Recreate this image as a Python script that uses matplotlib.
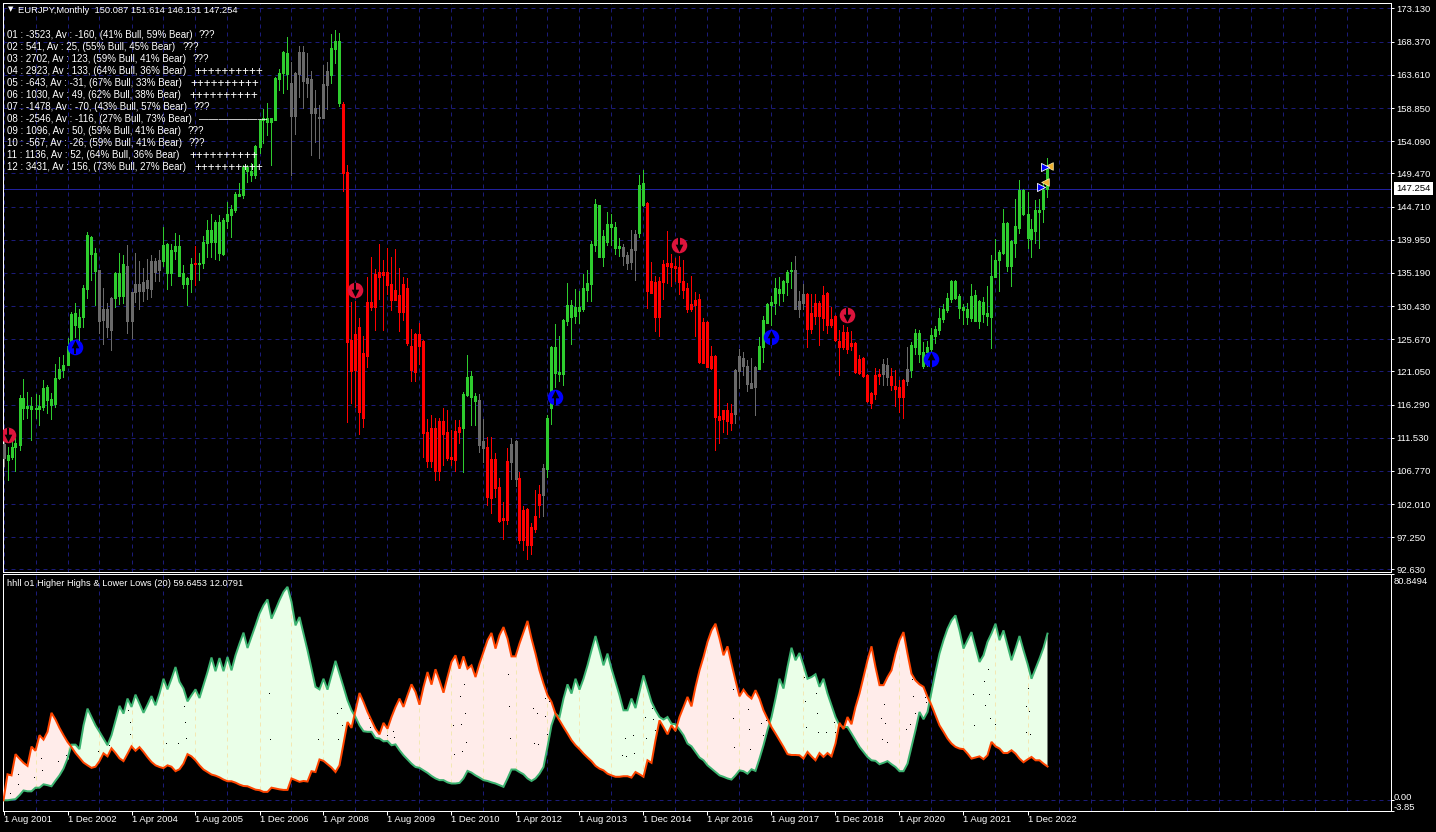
import numpy as np
import matplotlib
matplotlib.use("Agg")
import matplotlib.pyplot as plt

W, H = 1436, 832
FONT = "Liberation Sans"

body_top = [
110.6,109.1,110.2,110.8,117.2,117.2,116.1,116.1,115.8,116.1,
118.7,118.8,117.1,120.1,121.4,122.0,124.7,129.3,129.4,128.9,
133.0,140.6,140.3,138.0,135.6,130.0,130.0,131.6,135.2,135.2,
136.5,136.2,132.4,133.6,133.6,133.9,134.2,136.9,136.9,137.0,
139.2,139.3,138.5,139.1,139.1,135.2,134.5,136.5,136.6,136.6,
139.6,141.4,141.4,142.5,142.5,142.8,143.6,144.4,146.5,146.5,
150.4,150.4,149.8,153.4,157.1,157.4,157.4,157.4,163.2,163.9,
166.9,166.7,162.4,163.9,166.9,166.9,163.2,163.0,158.9,157.6,
162.3,164.2,167.5,168.5,168.5,159.4,149.7,125.6,126.4,127.4,
123.7,131.0,131.0,135.0,135.3,135.3,135.3,133.6,132.7,132.0,
133.6,133.0,124.7,126.4,126.4,125.4,112.4,112.9,112.9,113.9,
113.9,112.4,108.8,112.5,113.1,117.8,120.3,120.4,117.5,117.0,
111.1,110.2,108.5,108.5,104.5,100.0,108.2,110.6,111.1,105.8,
101.2,101.3,98.7,100.3,103.5,107.2,114.4,124.6,124.6,121.0,
128.4,130.6,130.6,130.3,130.3,133.0,133.7,139.3,145.1,145.0,
140.5,142.2,142.2,141.8,139.1,138.9,137.7,138.6,140.8,147.8,
148.1,145.2,134.0,133.9,134.0,136.5,136.6,136.6,136.2,136.0,
134.0,133.0,130.7,131.3,131.4,128.1,128.1,123.3,123.3,114.7,
115.5,115.5,115.1,121.3,123.3,123.0,121.8,119.4,121.7,124.7,
128.4,130.7,131.0,133.0,132.9,134.0,135.3,135.6,135.6,131.2,
132.2,132.2,129.4,130.9,130.9,132.0,132.3,128.6,129.0,125.4,
126.7,126.7,125.1,125.1,122.8,123.0,120.5,118.0,120.5,120.7,
122.1,122.0,120.4,119.0,118.8,119.8,121.4,124.8,126.6,126.6,
123.8,124.6,126.3,127.1,128.7,130.0,131.6,134.0,134.0,131.9,
130.3,130.0,131.9,132.0,131.2,131.0,129.4,134.7,137.0,138.2,
142.4,142.4,139.8,141.9,147.1,147.1,143.6,141.5,144.2,144.2,
147.1,150.087]

body_bottom = [
108.6,108.3,108.8,110.2,110.5,115.8,115.8,115.7,115.7,115.7,
115.9,117.0,116.2,116.4,120.1,121.3,122.0,124.7,127.7,127.4,
128.9,132.9,137.9,135.5,128.3,128.4,127.4,127.0,131.6,131.9,
131.9,128.3,128.3,132.4,132.6,132.6,133.0,132.9,135.3,135.6,
136.9,135.2,135.2,138.3,134.8,133.6,133.6,134.3,136.5,136.5,
136.6,139.5,139.6,139.6,138.0,137.9,142.6,143.5,144.2,146.2,
146.4,149.8,149.2,149.2,153.3,157.1,156.8,156.8,157.1,163.0,
163.9,163.7,157.7,157.7,163.7,162.7,162.4,158.1,158.1,157.4,
157.4,162.2,163.6,167.3,159.6,149.5,125.3,121.1,121.3,115.2,
114.4,123.3,130.3,130.3,134.6,134.9,133.4,131.3,131.3,129.6,
129.6,125.1,121.3,121.0,124.7,112.2,108.2,108.2,106.8,106.8,
112.1,108.6,108.5,108.3,112.4,112.9,117.7,117.4,116.8,110.5,
110.1,103.0,102.9,104.3,99.6,99.7,99.7,108.1,105.6,96.9,
96.9,96.1,96.1,98.4,101.9,103.3,107.0,115.8,120.8,120.7,
120.7,128.3,128.9,129.0,129.7,130.0,132.7,133.6,139.2,137.5,
137.5,139.6,141.8,138.8,138.8,137.6,136.6,136.8,138.5,140.9,
144.9,132.6,132.3,128.9,128.9,133.9,136.2,136.0,135.9,133.9,
132.7,130.0,130.0,130.6,122.4,122.3,121.7,121.5,114.5,114.1,
114.2,113.9,113.6,114.9,121.1,121.8,119.2,118.7,118.8,121.4,
124.6,128.0,130.6,130.9,132.3,132.3,133.9,135.5,130.0,130.0,
130.9,127.1,127.1,129.0,129.0,128.7,127.7,127.7,125.6,124.6,
124.6,124.3,124.7,121.0,120.8,120.4,116.8,116.5,117.8,120.4,
120.7,120.2,119.1,118.5,117.4,117.4,119.7,121.3,124.6,123.6,
121.8,123.8,124.3,126.1,127.0,128.6,129.9,131.4,131.6,130.1,
129.9,128.9,128.7,128.3,128.3,129.3,129.0,128.9,134.6,137.0,
138.0,136.2,136.2,139.5,141.6,143.6,140.2,140.1,141.2,143.9,
144.4,147.254]

wick_high = [
111.2,110.2,111.1,111.5,117.7,120.0,118.1,117.4,117.8,117.7,
119.8,119.1,118.0,122.1,123.1,123.4,125.8,129.6,130.9,130.0,
133.4,141.1,140.5,138.8,135.6,133.0,130.9,131.7,135.3,138.0,
137.8,139.2,132.4,138.0,136.9,135.9,137.2,137.8,137.3,138.5,
141.8,139.5,139.3,140.9,140.6,136.3,134.6,137.3,139.1,138.0,
140.5,142.8,143.6,142.8,143.5,143.1,145.4,144.9,146.8,148.1,
150.7,150.7,151.0,153.5,157.3,158.7,159.6,157.4,163.3,164.4,
167.0,169.0,165.5,164.0,167.7,167.7,166.7,164.2,161.4,159.3,
165.0,165.5,169.5,170.0,169.6,159.7,150.7,131.0,131.2,128.7,
126.1,134.6,137.5,135.8,139.3,137.0,138.8,137.5,138.6,135.9,
134.6,134.5,127.1,126.6,128.0,125.6,114.2,114.8,114.4,114.4,
115.8,115.5,112.6,114.1,114.1,118.1,123.4,121.1,118.0,117.8,
114.2,111.6,111.6,109.3,105.8,102.3,110.1,111.5,111.2,106.6,
101.7,101.5,99.3,104.0,104.8,107.8,114.8,124.7,127.9,126.1,
128.6,133.7,131.3,132.9,132.6,135.0,135.6,139.8,145.8,145.0,
141.4,143.9,143.6,142.5,140.2,139.3,138.2,141.4,141.4,149.2,
150.0,145.4,136.8,134.7,134.6,137.0,141.2,137.9,137.3,137.6,
137.0,133.7,134.7,132.4,132.2,128.7,128.3,124.7,123.4,118.5,
115.5,116.5,116.4,121.4,124.3,123.8,122.7,123.0,121.8,126.0,
129.0,130.9,131.9,134.5,134.6,134.2,135.6,136.8,137.6,132.6,
133.6,132.3,132.2,132.2,131.2,133.3,132.4,130.3,129.2,127.0,
127.7,127.4,126.9,125.3,123.4,123.1,120.7,118.1,121.5,121.4,
122.8,123.0,121.5,121.3,119.8,120.0,124.6,125.3,127.1,127.0,
125.3,125.4,127.3,127.6,130.1,130.7,132.3,134.2,134.2,132.2,
130.7,130.9,133.6,132.7,131.3,131.7,133.3,137.8,140.1,138.5,
144.4,142.5,139.9,145.8,148.5,147.2,146.8,142.9,145.7,145.8,
148.1,151.614]

wick_low = [
107.5,105.5,108.5,106.8,109.8,114.2,114.4,111.2,114.4,113.4,
115.5,115.1,114.2,115.9,120.0,120.2,122.0,124.1,126.0,125.6,
127.4,131.6,134.2,130.6,126.6,125.0,126.0,124.1,130.3,130.7,
130.9,126.6,125.8,131.0,130.0,131.2,131.4,131.7,134.0,134.0,
136.2,132.9,133.4,137.2,134.8,133.0,130.6,132.4,133.4,134.2,
135.9,137.5,137.5,137.2,137.0,137.8,141.6,140.3,143.9,146.4,
145.9,148.2,148.4,148.8,152.4,153.8,155.0,150.7,157.1,161.4,
161.0,161.6,149.2,155.1,160.4,158.9,160.4,152.1,154.0,151.7,
157.4,158.7,162.4,165.3,159.1,146.9,113.8,116.5,115.9,112.1,
113.1,121.7,129.9,127.0,131.4,127.0,132.2,129.9,131.3,126.9,
128.4,124.8,119.7,119.7,122.1,108.8,107.3,107.3,105.5,105.5,
107.6,108.3,107.6,106.8,110.8,106.6,117.5,113.4,113.4,109.5,
108.1,101.9,100.7,103.0,99.4,97.0,99.2,105.6,104.6,96.4,
95.4,94.1,94.9,98.0,100.2,100.3,105.9,113.5,118.8,119.7,
119.1,127.7,125.0,128.0,128.0,129.7,131.2,131.2,138.3,137.5,
136.2,139.2,139.2,137.9,137.6,136.3,135.7,135.7,134.2,140.3,
144.8,130.1,132.3,126.9,126.1,131.4,133.7,133.3,134.0,132.2,
131.6,129.6,129.7,126.1,122.3,122.3,121.7,121.4,109.8,110.8,
112.4,112.1,112.6,113.6,118.7,120.5,118.2,118.7,114.8,121.4,
122.4,128.0,127.7,129.3,130.6,131.2,132.0,133.0,130.0,128.9,
130.0,124.6,126.6,127.9,124.8,127.0,126.6,127.4,125.4,120.5,
124.3,123.7,124.1,120.8,120.7,120.2,116.7,115.8,117.1,119.2,
119.1,119.1,118.4,116.1,115.2,114.4,119.1,120.2,123.6,122.4,
121.5,121.8,123.8,125.1,126.4,128.1,129.6,131.0,131.4,128.7,
127.9,127.9,128.3,128.3,127.3,128.1,127.7,124.4,134.6,132.6,
137.9,135.5,133.3,137.4,140.9,143.5,138.8,137.4,139.5,138.8,
142.5,146.131]

trend_names = ["gray","green","gray","green","gray","green","red","green","gray","green",
               "red","green","gray","red","gray","red","gray","green","gray","green",
               "red","gray","green","gray","red","gray","red","gray","green"]
trend_counts = [1,23,4,3,9,8,1,23,10,3,30,4,2,6,2,6,1,19,4,2,22,6,9,3,19,2,4,1,35]

higher_highs = [
0.0,0.0,0.2,0.4,1.8,3.5,3.2,3.2,4.5,4.5,
5.7,5.4,5.0,7.0,8.9,11.3,14.9,19.9,19.9,18.3,
26.8,32.8,29.8,26.8,24.5,22.1,19.7,23.3,28.6,33.8,
31.0,36.4,33.4,37.8,34.6,31.3,34.2,37.3,34.0,38.2,
43.5,39.7,43.5,47.7,42.4,40.0,35.4,37.6,39.7,36.6,
41.2,45.9,51.1,46.2,50.9,46.2,51.3,46.5,51.9,56.1,
60.0,54.5,58.5,62.6,66.8,69.8,71.9,65.0,68.2,71.6,
74.6,76.4,71.0,62.6,65.6,59.7,53.7,47.1,40.6,39.7,
43.5,39.6,44.7,49.9,45.3,40.6,35.8,32.2,29.8,26.8,
24.7,24.5,24.5,22.3,22.1,21.1,21.2,19.7,20.0,17.9,
16.1,14.6,13.1,11.9,11.6,10.7,9.8,8.7,7.8,7.2,
7.2,6.4,6.0,6.0,6.2,7.8,10.5,9.9,8.9,8.1,
7.2,6.9,6.4,6.0,5.4,4.8,7.8,11.0,11.0,10.1,
9.3,7.8,6.9,7.8,9.5,11.9,19.1,26.8,31.0,29.8,
36.4,41.5,38.2,43.5,39.6,43.5,48.3,53.7,58.8,53.7,
48.3,52.5,47.1,42.4,37.6,32.2,32.2,36.4,33.0,38.8,
44.7,40.0,35.2,32.2,29.8,28.9,29.8,27.4,27.2,25.3,
23.3,20.3,19.3,17.3,15.3,14.3,12.5,11.3,10.1,8.9,
8.4,7.8,7.4,8.9,10.7,10.4,9.5,11.1,10.5,14.9,
19.7,25.1,29.8,36.4,43.5,40.0,47.7,54.6,50.1,52.7,
48.3,43.5,44.1,45.1,40.6,43.5,38.2,34.0,29.8,26.8,
26.2,26.2,23.9,21.5,19.1,17.3,15.5,14.3,14.1,12.9,
13.4,14.0,12.9,11.9,10.4,10.4,13.1,19.1,25.1,31.6,
29.0,31.6,38.8,45.9,52.5,57.3,61.4,64.4,66.2,60.8,
54.3,57.3,60.2,54.9,49.5,51.9,56.7,59.7,63.2,57.3,
60.8,55.5,50.1,54.3,58.8,53.7,48.9,43.5,47.1,50.7,
54.6,59.65]

lower_lows = [
0.0,9.3,8.9,16.5,14.9,13.4,12.3,19.2,17.7,23.3,
21.7,24.5,31.3,28.9,25.9,23.3,20.9,19.0,16.9,15.2,
13.5,12.5,11.6,12.0,14.0,16.8,15.7,18.6,16.9,15.0,
14.0,16.6,19.3,17.7,19.0,17.3,15.4,13.7,12.5,11.9,
11.5,12.5,12.0,10.4,11.1,13.1,16.5,15.7,14.3,12.5,
11.0,10.1,9.2,8.8,8.2,7.4,6.8,6.8,6.3,5.6,
5.1,5.0,4.4,3.8,3.6,3.0,3.0,4.5,4.2,3.9,
3.7,3.7,7.8,7.2,6.6,6.9,6.7,10.4,10.1,14.6,
14.1,12.9,11.7,10.1,12.5,20.3,28.0,25.9,32.2,38.4,
35.2,31.6,28.6,25.6,23.6,27.7,25.6,29.8,33.4,36.4,
33.4,37.6,41.5,38.8,34.2,40.6,45.9,41.4,46.9,42.9,
38.5,44.1,49.5,51.9,47.1,51.5,47.1,48.3,44.1,48.9,
53.1,57.3,59.9,54.3,59.1,62.0,57.9,51.5,51.5,56.1,
60.2,64.2,57.9,52.5,46.5,41.8,37.6,35.2,31.0,28.6,
26.2,23.9,21.5,19.7,18.3,16.7,15.3,14.0,12.3,11.3,
10.7,9.5,8.9,8.4,8.4,8.6,8.6,8.1,10.1,9.3,
8.4,14.3,13.4,21.5,28.6,26.2,23.6,26.8,24.8,29.8,
33.4,37.0,33.6,40.6,46.5,51.3,56.7,60.8,63.2,57.9,
51.9,55.1,48.9,42.9,37.2,39.6,37.6,36.4,39.4,36.4,
32.2,29.2,26.2,23.9,21.5,19.1,16.5,16.2,16.2,16.1,
14.9,17.3,15.7,14.3,16.9,15.5,16.9,15.7,20.3,27.7,
25.5,29.8,27.2,33.4,38.2,44.1,50.1,55.1,47.7,41.2,
41.2,44.1,46.5,52.5,57.3,60.2,52.5,45.3,42.9,41.5,
40.6,37.0,34.0,30.4,26.8,24.5,22.1,20.3,19.1,18.5,
18.3,16.7,14.9,15.3,15.7,14.7,16.1,20.9,19.3,18.5,
16.9,16.9,17.9,16.7,14.9,13.6,14.6,15.5,14.3,14.3,
13.1,12.08]

speck_bar = [1.7,3.7,3.5,7.7,9.7,9.5,13.7,15.7,23.7,26.5,31.7,31.5,31.2,40.7,43.7,45.7,45.5,45.2,
66.5,66.7,78.7,83.7,84.7,83.5,84.5,91.5,91.7,95.8,97.7,97.5,115.7,114.7,112.7,112.5,114.5,115.5,114.2,115.2,
126.2,126.4,126.7,132.6,133.7,132.3,133.4,135.5,135.3,136.3,135.8,154.6,155.7,157.7,155.4,157.4,160.6,160.4,162.5,162.2,162.8,
182.3,186.1,182.4,186.3,182.7,186.7,189.8,189.5,190.6,190.4,200.2,203.1,200.4,203.4,200.7,203.7,205.7,207.8,207.3,207.6,
220.1,219.5,220.4,225.7,226.6,227.8,227.4,227.2,219.7,220.8,230.5,230.7,242.5,245.2,246.2,246.4,245.4,246.7,242.7,248.0,
255.5,256.4,255.7,256.7,256.1]
speck_val = [2.4,5.6,9.2,8.1,10.3,14.6,13.8,16.0,17.4,19.3,23.5,27.8,32.1,20.3,20.3,22.1,27.8,33.5,
38.1,21.4,21.7,21.7,26.7,31.0,32.8,29.2,26.0,22.9,22.4,24.6,20.6,17.1,16.3,26.7,27.1,31.0,37.1,41.4,
45.0,33.5,22.1,20.3,19.9,32.8,30.7,29.9,36.4,35.0,23.5,16.0,15.6,16.7,22.1,23.1,22.1,29.6,28.9,32.8,24.9,
39.6,32.4,29.2,25.3,18.8,18.1,23.1,27.4,28.5,31.0,43.9,38.2,35.0,31.0,26.0,23.9,23.9,23.9,31.7,27.8,
34.2,29.2,27.4,25.3,27.1,31.0,37.1,43.2,21.4,20.6,36.7,34.7,37.8,42.5,46.5,37.8,33.6,29.2,26.7,27.1,
33.5,31.7,23.9,23.5,40.0]

sell_bars = [1, 88, 169, 211]
sell_prices = [111.9, 132.7, 139.2, 129.1]
buy_bars = [18, 138, 192, 232]
buy_prices = [124.6, 117.4, 126.0, 122.8]
recent_bars = [259.5, 260.5]
recent_prices = [147.5, 150.4]
recent_wedge_bars = [260.5, 261.5]
recent_wedge_prices = [148.2, 150.5]

price_ticks = [173.130,168.370,163.610,158.850,154.090,149.470,144.710,139.950,135.190,
               130.430,125.670,121.050,116.290,111.530,106.770,102.010,97.250,92.630]
last_price = 147.254
date_labels = ["1 Aug 2001","1 Dec 2002","1 Apr 2004","1 Aug 2005","1 Dec 2006","1 Apr 2008",
               "1 Aug 2009","1 Dec 2010","1 Apr 2012","1 Aug 2013","1 Dec 2014","1 Apr 2016",
               "1 Aug 2017","1 Dec 2018","1 Apr 2020","1 Aug 2021","1 Dec 2022"]
stat_lines = [
 "01 : -3523, Av : -160, (41% Bull, 59% Bear)","02 : 541, Av : 25, (55% Bull, 45% Bear)",
 "03 : 2702, Av : 123, (59% Bull, 41% Bear)","04 : 2923, Av : 133, (64% Bull, 36% Bear)",
 "05 : -643, Av : -31, (67% Bull, 33% Bear)","06 : 1030, Av : 49, (62% Bull, 38% Bear)",
 "07 : -1478, Av : -70, (43% Bull, 57% Bear)","08 : -2546, Av : -116, (27% Bull, 73% Bear)",
 "09 : 1096, Av : 50, (59% Bull, 41% Bear)","10 : -567, Av : -26, (59% Bull, 41% Bear)",
 "11 : 1136, Av : 52, (64% Bull, 36% Bear)","12 : 3431, Av : 156, (73% Bull, 27% Bear)"]
stat_marks = ["???","???","???","++++++++++","++++++++++","++++++++++","???","———————",
              "???","???","++++++++++","++++++++++"]
stat_mark_x = [199,183,193,194,190,189,194,199,188,189,189,194]

GRID = "#1b1b78"
bar_colors = {"green":"#2ecc2e","red":"#ff0000","gray":"#6a6a6a"}
px = 0.72

fig = plt.figure(figsize=(W/100, H/100), dpi=100, facecolor="black")
L, R = 2.5/W, 1390.5/W
ax = fig.add_axes([L, 1-572/H, R-L, (572-2.5)/H], facecolor="black")
ax2 = fig.add_axes([L, 1-811/H, R-L, (811-574.3)/H], facecolor="black")
for a in (ax, ax2):
    for s in a.spines.values():
        s.set_color("white"); s.set_linewidth(px)
    a.set_xlim(-0.25, 346.75)
    a.set_axisbelow(True)
    a.set_xticks(np.arange(0, 344, 8), minor=True)
    a.tick_params(axis="x", which="minor", length=0)
    a.grid(True, axis="x", which="minor", color=GRID, lw=px, ls=(0, (4, 4)), zorder=0)
    a.yaxis.tick_right()

# ---------- price panel ----------
ax.set_ylim(92.27, 173.99)
ax.set_xticks([])
ax.set_yticks(price_ticks)
ax.set_yticklabels([f"{t:.3f}" for t in price_ticks], color="white", fontsize=6.8, family=FONT)
ax.tick_params(axis="y", length=2.5, width=px, color="white", pad=1.5)
ax.grid(True, axis="y", color=GRID, lw=px, ls=(0, (4, 4)), zorder=0)
ax.axhline(last_price, color="#20209c", lw=px, antialiased=False, zorder=1)

idx = np.arange(len(body_top))
names = np.repeat(trend_names, trend_counts)
for name, col in bar_colors.items():
    m = names == name
    ax.vlines(idx[m], np.array(wick_low)[m], np.array(wick_high)[m], color=col, lw=px,
              capstyle="butt", antialiased=False, zorder=3)
    ax.vlines(idx[m], np.array(body_bottom)[m], np.array(body_top)[m], color=col, lw=3*px,
              capstyle="butt", antialiased=False, zorder=3)

ax.scatter(sell_bars, sell_prices, s=125, color="#dc143c", linewidths=0, zorder=5)
ax.scatter(sell_bars, np.array(sell_prices)-0.4, s=30, marker="v", color="black", linewidths=0, zorder=6)
ax.vlines(sell_bars, np.array(sell_prices)-0.4, np.array(sell_prices)+1.1, color="black", lw=2*px, zorder=6)
ax.scatter(buy_bars, buy_prices, s=125, color="#0000ff", linewidths=0, zorder=5)
ax.scatter(buy_bars, np.array(buy_prices)+0.4, s=30, marker="^", color="black", linewidths=0, zorder=6)
ax.vlines(buy_bars, np.array(buy_prices)-1.1, np.array(buy_prices)+0.4, color="black", lw=2*px, zorder=6)
ax.scatter(recent_wedge_bars, recent_wedge_prices, s=30, marker="<", color="#f0b030",
           edgecolors="#fff2b0", linewidths=0.5, zorder=6)
ax.scatter(recent_bars, recent_prices, s=34, marker=">", color="#0000ff",
           edgecolors="white", linewidths=0.6, zorder=7)

# ---------- oscillator panel ----------
ax2.set_ylim(-3.85, 80.89)
hh, ll = np.array(higher_highs), np.array(lower_lows)
ax2.fill_between(idx, ll, hh, where=hh >= ll, interpolate=True, color="#eaffe8", lw=0, zorder=2)
ax2.fill_between(idx, ll, hh, where=hh <= ll, interpolate=True, color="#ffecea", lw=0, zorder=2)
gi = np.arange(8, len(idx), 8)
ax2.vlines(gi, np.minimum(hh, ll)[gi], np.maximum(hh, ll)[gi], color="#f3e8b4", lw=px,
           ls=(0, (4, 4)), zorder=3)
ax2.axhline(0, color=GRID, lw=px, ls=(0, (4, 4)), zorder=1)
ax2.plot(speck_bar, speck_val, ls="", marker=",", color="black", zorder=3)
ax2.plot(idx, hh, color="#3cb371", lw=2*px, solid_joinstyle="miter", zorder=4)
ax2.plot(idx, ll, color="#ff4500", lw=2*px, solid_joinstyle="miter", zorder=5)
ax2.set_xticks(np.arange(0, 16*len(date_labels), 16))
ax2.set_xticklabels(date_labels, color="white", fontsize=6.8, family=FONT, ha="left")
ax2.tick_params(axis="x", which="major", length=3, width=px, color="white", pad=0)
ax2.set_yticks([80.8494, 0, -3.85])
ax2.set_yticklabels([])
ax2.tick_params(axis="y", length=2, width=px, color="white")

def label(txt, x, y, size=6.8, color="white", **kw):
    fig.text(x/W, 1-y/H, txt, color=color, fontsize=size, family=FONT, va="center", ha="left", **kw)

label("80.8494", 1394, 581.5)
label("0.00", 1394, 798)
label("-3.85", 1394, 807)
fig.text(1396/W, 1-188.5/H, f"{last_price:.3f}", color="black", fontsize=6.8, family=FONT, va="center",
         ha="left", bbox=dict(facecolor="white", edgecolor="none", pad=1.6))
fig.text(8/W, 1-9.5/H, "▼", color="white", fontsize=5, family="DejaVu Sans", va="center", ha="left")
label("EURJPY,Monthly  150.087 151.614 146.131 147.254", 18, 10.5, size=6.75)
label("hhll o1 Higher Highs & Lower Lows (20) 59.6453 12.0791", 7, 583.5, size=6.65)
for k, (t, mk, mx) in enumerate(zip(stat_lines, stat_marks, stat_mark_x)):
    y = 35.5 + 12*k
    label(t, 7, y, size=7)
    label(mk, mx, y, size=8.5 if mk[0] == "+" else 7)

fig.savefig("out.png", dpi=100, facecolor="black")
